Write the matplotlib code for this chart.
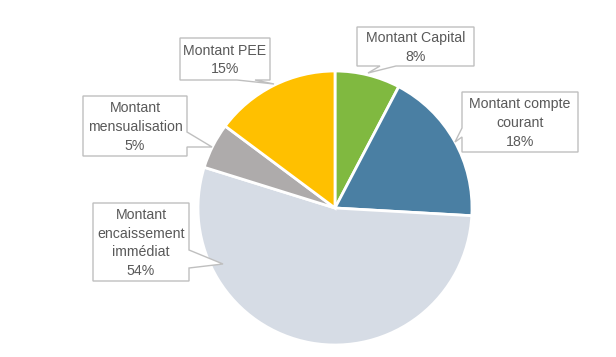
import matplotlib.pyplot as plt
from matplotlib.patches import Polygon

# slices, clockwise from the top
labels = ['Montant Capital', 'Montant compte\ncourant', 'Montant\nencaissement\nimmédiat',
          'Montant\nmensualisation', 'Montant PEE']
shares = [7.7, 18.2, 53.9, 5.4, 14.8]
pct_text = ['8%', '18%', '54%', '5%', '15%']
colors = ['#80B940', '#4A7FA3', '#D6DCE5', '#AEABAB', '#FFC000']

W, H = 616, 357

# callout layout in pixel coords: box (x0, y0, x1, y1), pointer base side + tip
callouts = [
    ((357, 27, 474, 66), 'bottom', (380, 396), (368, 73)),
    ((462, 92, 578, 152), 'left', (128, 137), (455, 142)),
    ((93, 203, 189, 281), 'right', (250, 268), (223, 264)),
    ((83, 96, 187, 156), 'right', (132, 147), (212, 147)),
    ((180, 38, 270, 80), 'bottom', (237, 255), (274, 84)),
]


def fy(y):
    return H - y


def callout_poly(box, side, base, tip):
    x0, y0, x1, y1 = box
    if side == 'bottom':
        pts = [(x0, y0), (x1, y0), (x1, y1), (base[1], y1), tip, (base[0], y1), (x0, y1)]
    elif side == 'left':
        pts = [(x0, y0), (x1, y0), (x1, y1), (x0, y1), (x0, base[1]), tip, (x0, base[0])]
    else:
        pts = [(x0, y0), (x1, y0), (x1, base[0]), tip, (x1, base[1]), (x1, y1), (x0, y1)]
    return [(x, fy(y)) for x, y in pts]


fig = plt.figure(figsize=(W / 100, H / 100), dpi=100)
ax = fig.add_axes([0, 0, 1, 1])

ax.pie(shares, colors=colors, startangle=90, counterclock=False,
       center=(335, fy(208)), radius=137,
       wedgeprops=dict(edgecolor='white', linewidth=2))

for lab, pct, (box, side, base, tip) in zip(labels, pct_text, callouts):
    poly = Polygon(callout_poly(box, side, base, tip), closed=True,
                   facecolor='white', edgecolor='#BFBFBF', linewidth=1, zorder=3)
    ax.add_patch(poly)
    cx = (box[0] + box[2]) / 2
    cy = (box[1] + box[3]) / 2
    ax.text(cx, fy(cy) - 1, lab + '\n' + pct, ha='center', va='center',
            fontsize=10.2, color='#595959', family='Liberation Sans',
            linespacing=1.45, zorder=4)

ax.set_xlim(0, W)
ax.set_ylim(0, H)
ax.set_aspect('equal')
ax.axis('off')

fig.savefig('out.png', dpi=100, facecolor='white')
